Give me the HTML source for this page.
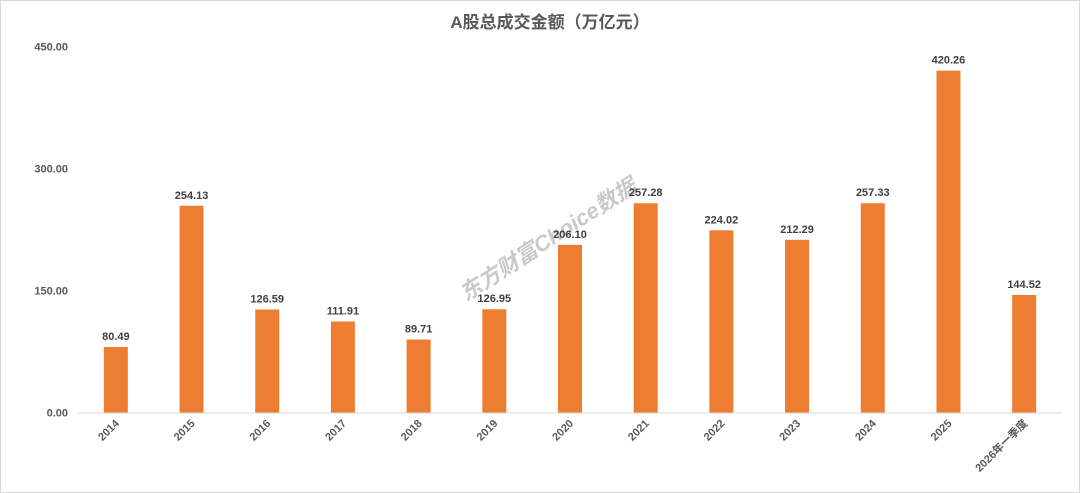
<!DOCTYPE html>
<html><head><meta charset="utf-8"><style>
html,body{margin:0;padding:0;background:#fff;}
svg{display:block;font-family:"Liberation Sans","Noto Sans CJK SC",sans-serif;}
</style></head><body>
<svg id="chart" width="1080" height="493" viewBox="0 0 1080 493">
<rect x="0.5" y="0.5" width="1079" height="492" fill="#fff" stroke="#d9d9d9"/>
<text x="550" y="28" text-anchor="middle" font-size="17" font-weight="bold" fill="#595959">A股总成交金额（万亿元）</text>
<text x="552" y="246" text-anchor="middle" font-size="22" font-weight="bold" font-style="italic" fill="#b8b8b8" opacity="0.75" transform="rotate(-33 552 246)">东方财富Choice数据</text>
<g id="yaxis"></g><g id="bars"></g><g id="xaxis"></g>
</svg>
<script>
const categories=["2014","2015","2016","2017","2018","2019","2020","2021","2022","2023","2024","2025","2026年一季度"];
const values=[80.49,254.13,126.59,111.91,89.71,126.95,206.10,257.28,224.02,212.29,257.33,420.26,144.52];
const yTicks=[0,150,300,450];
const NS="http://www.w3.org/2000/svg";
const left=78,right=1062,y0=412.5,yTop=46.5,yMax=450;
const band=(right-left)/categories.length;
function y(v){return y0-(v/yMax)*(y0-yTop);}
function x(i){return left+band*(i+0.5);}
function mk(tag,attrs,parent){const e=document.createElementNS(NS,tag);for(const k in attrs)e.setAttribute(k,attrs[k]);parent.appendChild(e);return e;}
const ya=document.getElementById('yaxis'),bg=document.getElementById('bars'),xa=document.getElementById('xaxis');
yTicks.forEach(t=>{
 const tx=mk('text',{x:68,y:y(t)+4,'text-anchor':'end','font-size':11,'font-weight':'bold',fill:'#595959'},ya);
 tx.textContent=t.toFixed(2);
 
 
});
const ax=mk('line',{x1:left,x2:right,y1:y0+0.5,y2:y0+0.5,stroke:'#d9d9d9','stroke-width':1},xa);


const bw=24;
values.forEach((v,i)=>{
 const r=mk('rect',{x:x(i)-bw/2,y:y(v),width:bw,height:y0-y(v),fill:'#ed7d31'},bg);
 
 
 const l=mk('text',{x:x(i),y:y(v)-7,'text-anchor':'middle','font-size':11,'font-weight':'bold',fill:'#404040'},bg);
 l.textContent=v.toFixed(2);
 
 
 const cx=x(i)+4,cy=424;
 const c=mk('text',{x:cx,y:cy,'text-anchor':'end','font-size':11,'font-weight':'bold',fill:'#595959',transform:`rotate(-45 ${cx} ${cy})`},xa);
 c.textContent=categories[i];
 
 
});
</script>
</body></html>
